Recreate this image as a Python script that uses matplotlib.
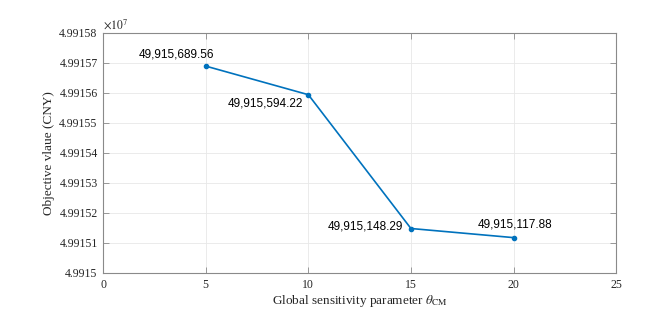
import matplotlib
matplotlib.use('Agg')
import matplotlib.pyplot as plt
from matplotlib.ticker import FuncFormatter

# data
theta = [5, 10, 15, 20]
objective = [49915689.56, 49915594.22, 49915148.29, 49915117.88]
point_labels = ['49,915,689.56', '49,915,594.22', '49,915,148.29', '49,915,117.88']

# label offsets (points) and alignments for each annotation
offsets = [(6, 4), (-4, -2), (-6, 1.5), (1, 5)]
aligns = [('right', 'bottom'), ('right', 'top'), ('right', 'center'), ('center', 'bottom')]

plt.rcParams['font.family'] = 'Liberation Serif'
plt.rcParams['mathtext.fontset'] = 'stix'

txt = '#262626'
axcol = '#8a8a8a'

fig = plt.figure(figsize=(6.57, 3.14), dpi=100)
ax = fig.add_axes([0.157, 0.1306, 0.7808, 0.7644])

ax.plot(theta, objective, color='#0072BD', lw=1.2, marker='o', ms=3, zorder=3)

for x, y, s, (dx, dy), (ha, va) in zip(theta, objective, point_labels, offsets, aligns):
    ax.annotate(s, (x, y), xytext=(dx, dy), textcoords='offset points',
                ha=ha, va=va, fontsize=8.5, family='Liberation Sans', color='black')

ax.set_xlim(0, 25)
ax.set_ylim(49915000, 49915800)
ax.set_xticks([0, 5, 10, 15, 20, 25])
ax.set_yticks([49915000 + 100 * i for i in range(9)])
ax.yaxis.set_major_formatter(FuncFormatter(lambda v, p: f'{v / 1e7:g}'))

ax.grid(True, color='#e8e8e8', lw=0.6)
ax.set_axisbelow(True)
for sp in ax.spines.values():
    sp.set_color(axcol)
    sp.set_linewidth(0.8)
ax.tick_params(direction='in', length=4, width=0.6, colors=axcol, labelcolor=txt,
               labelsize=8.5, top=True, right=True, pad=4)

ax.text(0, 1.005, r'$\times10^{7}$', transform=ax.transAxes, ha='left', va='bottom',
        fontsize=8.5, color=txt)

ax.set_xlabel(r'Global sensitivity parameter $\theta_{\mathrm{CM}}$', fontsize=9.5, color=txt, labelpad=2)
ax.set_ylabel('Objective vlaue (CNY)', fontsize=9.5, color=txt, labelpad=3)

fig.savefig('out.png', dpi=100)
